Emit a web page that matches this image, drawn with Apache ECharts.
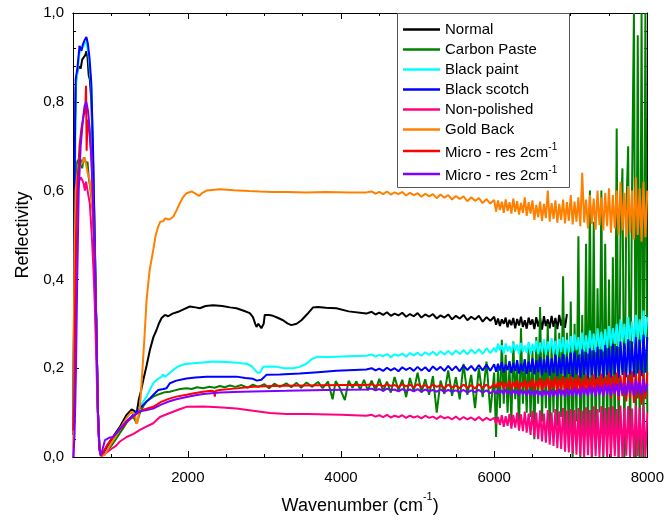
<!DOCTYPE html>
<html>
<head>
<meta charset="utf-8">
<script src="https://cdn.jsdelivr.net/npm/echarts@6/dist/echarts.min.js"></script>
<style>html,body{margin:0;padding:0;background:#fff}#c{width:667px;height:521px}</style>
</head>
<body>
<div id="c"></div>
<script>
const FONT = '"Liberation Sans", Arial, sans-serif';
const seriesNames = ['Normal','Carbon Paste','Black paint','Black scotch','Non-polished','Gold Back','Micro - res 2cm-1','Micro - res 2cm-1 '];
const seriesColors = ['#000000','#008000','#00FFFF','#0000FF','#FF0080','#FF8000','#FF0000','#8000FF'];
const xLabelValues = [2000,4000,6000,8000];
const yTicks = [0,0.2,0.4,0.6,0.8,1.0];

// shared wavenumber grid for the noisy tails
const tailX = [4400,4450,4500,4550,4600,4650,4700,4750,4800,4850,4900,4950,5000,5050,5100,5150,5200,5250,5300,5350,5400,5450,5500,5550,5600,5650,5700,5750,5800,5850,5900,5950,6000,
6025,6050,6075,6100,6125,6150,6175,6200,6225,6250,6275,6300,6325,6350,6375,6400,6425,6450,6475,6500,
6525,6550,6575,6600,6625,6650,6675,6700,6725,6750,6775,6800,6825,6850,6875,6900,6925,6950,6975,7000,
7025,7050,7075,7100,7125,7150,7175,7200,7225,7250,7275,7300,7325,7350,7375,7400,7425,7450,7475,7500,
7525,7550,7575,7600,7625,7650,7675,7700,7725,7750,7775,7800,7825,7850,7875,7900,7925,7950,7975,8000];

const normalHead = [[505,0.05],[515,0.4],[525,0.75],[540,0.85],[560,0.87],[580,0.88],[600,0.875],[620,0.895],[640,0.9],[660,0.905],[675,0.914],[690,0.9],[705,0.86],[720,0.85],[740,0.8],[760,0.68],[783,0.5],[804,0.3],[826,0.1],[845,0.02],[865,0.003],[890,0.008],[939,0.023],[1000,0.04],[1060,0.055],[1113,0.068],[1160,0.083],[1200,0.095],[1265,0.107],[1300,0.104],[1331,0.099],[1360,0.13],[1390,0.15],[1417,0.173],[1460,0.205],[1504,0.241],[1550,0.27],[1591,0.286],[1620,0.3],[1657,0.313],[1700,0.32],[1743,0.317],[1800,0.323],[1874,0.327],[1950,0.333],[2026,0.339],[2100,0.337],[2157,0.335],[2230,0.34],[2330,0.342],[2450,0.34],[2550,0.337],[2635,0.335],[2720,0.33],[2809,0.324],[2850,0.315],[2880,0.3],[2896,0.293],[2920,0.3],[2939,0.297],[2960,0.29],[2974,0.286],[2990,0.3],[3004,0.32],[3060,0.32],[3113,0.318],[3180,0.313],[3243,0.308],[3300,0.301],[3352,0.297],[3420,0.3],[3483,0.308],[3560,0.322],[3635,0.337],[3700,0.338],[3800,0.336],[3939,0.335],[4100,0.328],[4330,0.323]];
const normalTail = [0.327,0.321,0.325,0.32,0.326,0.318,0.323,0.319,0.325,0.316,
0.322,0.317,0.324,0.314,0.321,0.316,0.322,0.312,0.319,0.314,
0.321,0.31,0.318,0.312,0.32,0.308,0.316,0.31,0.318,0.305,
0.315,0.307,0.316,
0.298,0.312,0.295,0.31,0.3,0.314,0.292,0.309,0.297,0.313,
0.29,0.311,0.296,0.316,0.293,0.308,0.289,0.314,0.298,0.31,
0.288,0.315,0.294,0.312,0.287,0.317,0.295,0.31,0.29,0.318,
0.293,0.313,0.288,0.32,0.296,0.315,0.291,0.322];

const carbonHead = [[505,0.05],[515,0.35],[530,0.6],[545,0.66],[565,0.669],[585,0.655],[600,0.67],[620,0.65],[640,0.675],[660,0.678],[675,0.66],[690,0.665],[705,0.63],[730,0.6],[760,0.55],[783,0.45],[804,0.3],[826,0.1],[845,0.02],[865,0.003],[900,0.005],[939,0.012],[1000,0.025],[1060,0.04],[1113,0.054],[1160,0.066],[1200,0.077],[1250,0.088],[1290,0.09],[1331,0.076],[1374,0.099],[1420,0.115],[1460,0.125],[1548,0.136],[1600,0.14],[1650,0.143],[1700,0.146],[1765,0.147],[1830,0.15],[1900,0.153],[1983,0.155],[2050,0.153],[2120,0.157],[2200,0.155],[2280,0.158],[2350,0.156],[2417,0.16],[2480,0.157],[2550,0.161],[2620,0.158],[2700,0.162],[2780,0.156],[2850,0.163],[2920,0.158],[3000,0.164],[3060,0.155],[3130,0.165],[3200,0.158],[3287,0.166],[3350,0.157],[3420,0.167],[3480,0.156],[3550,0.168],[3620,0.158],[3700,0.169],[3760,0.155],[3830,0.17],[3890,0.13],[3930,0.171],[3980,0.157],[4050,0.128],[4100,0.172],[4150,0.156],[4200,0.17],[4250,0.152],[4300,0.174],[4350,0.15]];
const carbonTail = [0.172,0.15,0.176,0.148,0.17,0.145,0.18,0.15,0.174,0.135,
0.178,0.148,0.19,0.145,0.175,0.14,0.182,0.1,0.172,0.142,
0.195,0.138,0.18,0.13,0.21,0.14,0.185,0.11,0.2,0.135,
0.215,0.1,0.19,
0.045,0.2,0.11,0.264,0.12,0.23,0.1,0.205,0.08,0.26,
0.13,0.21,0.06,0.29,0.12,0.22,0.1,0.25,0.09,0.24,
0.04,0.27,0.12,0.338,0.08,0.26,0.11,0.3,0.05,0.25,
0.1,0.3,0.07,0.28,0.09,0.407,0.06,0.28,0.02,0.35,
0.0,0.3,0.08,0.497,0.0,0.32,0.05,0.48,0.03,0.6,
0.0,0.53,0.02,0.38,0.1,0.6,0.0,0.48,0.05,0.4,
0.0,0.45,0.02,0.74,0.0,0.5,0.65,0.0,0.55,0.7,
0.0,0.6,1.0,0.0,0.95,0.0,1.0,0.0,1.0,0.1];

const paintHead = [[505,0.05],[520,0.45],[535,0.83],[560,0.87],[585,0.91],[620,0.92],[650,0.93],[675,0.935],[700,0.91],[740,0.83],[760,0.7],[783,0.5],[804,0.3],[826,0.1],[845,0.02],[865,0.003],[900,0.01],[939,0.02],[1000,0.035],[1060,0.05],[1113,0.063],[1200,0.08],[1290,0.095],[1350,0.105],[1400,0.12],[1461,0.136],[1500,0.15],[1548,0.166],[1600,0.175],[1650,0.18],[1678,0.186],[1700,0.18],[1740,0.186],[1800,0.195],[1874,0.204],[1950,0.209],[2070,0.211],[2200,0.213],[2330,0.215],[2500,0.214],[2650,0.212],[2765,0.21],[2830,0.205],[2874,0.196],[2910,0.19],[2939,0.19],[2960,0.196],[2983,0.203],[3060,0.204],[3157,0.203],[3260,0.2],[3374,0.2],[3460,0.203],[3548,0.21],[3600,0.218],[3635,0.222],[3700,0.226],[3800,0.225],[3939,0.226],[4100,0.227],[4330,0.228]];
const paintTail = [0.231,0.226,0.23,0.227,0.232,0.225,0.231,0.228,0.233,0.226,
0.234,0.229,0.235,0.228,0.236,0.23,0.237,0.229,0.238,0.231,
0.239,0.23,0.24,0.232,0.241,0.231,0.242,0.233,0.243,0.232,
0.245,0.234,0.246,
0.236,0.255,0.24,0.252,0.233,0.256,0.238,0.25,0.234,0.258,
0.239,0.253,0.232,0.257,0.237,0.251,0.235,0.259,0.231,0.255,
0.237,0.262,0.232,0.258,0.236,0.265,0.23,0.26,0.238,0.268,
0.233,0.262,0.229,0.266,0.236,0.27,0.231,0.264,0.235,0.272,
0.234,0.276,0.241,0.27,0.232,0.28,0.238,0.274,0.233,0.285,
0.24,0.278,0.236,0.29,0.243,0.282,0.238,0.288,0.245,0.295,
0.25,0.29,0.255,0.3,0.248,0.31,0.26,0.3,0.252,0.315,
0.262,0.305,0.256,0.32,0.265,0.31,0.258,0.33,0.268,0.315];

const scotchHead = [[505,0.05],[515,0.35],[525,0.7],[535,0.85],[560,0.88],[585,0.926],[610,0.915],[630,0.93],[655,0.94],[675,0.946],[695,0.93],[715,0.9],[739,0.842],[761,0.7],[783,0.5],[804,0.3],[826,0.1],[845,0.02],[865,0.003],[900,0.01],[939,0.02],[1000,0.035],[1060,0.05],[1113,0.063],[1200,0.08],[1290,0.095],[1374,0.11],[1450,0.123],[1504,0.132],[1560,0.142],[1613,0.151],[1680,0.153],[1722,0.155],[1765,0.166],[1850,0.172],[1983,0.177],[2100,0.179],[2244,0.181],[2450,0.181],[2635,0.181],[2750,0.178],[2852,0.176],[2900,0.172],[2960,0.174],[3026,0.185],[3200,0.186],[3461,0.188],[3700,0.191],[3939,0.194],[4330,0.197]];
const scotchTail = [0.2,0.195,0.199,0.194,0.201,0.195,0.2,0.193,0.202,0.196,
0.201,0.194,0.203,0.195,0.202,0.193,0.204,0.196,0.203,0.194,
0.205,0.195,0.204,0.193,0.206,0.196,0.205,0.194,0.207,0.195,
0.208,0.194,0.209,
0.192,0.21,0.195,0.214,0.19,0.208,0.196,0.216,0.189,0.212,
0.194,0.218,0.188,0.21,0.193,0.22,0.187,0.215,0.192,0.222,
0.186,0.218,0.191,0.225,0.184,0.22,0.19,0.228,0.183,0.222,
0.189,0.23,0.182,0.224,0.188,0.232,0.181,0.226,0.187,0.235,
0.18,0.238,0.186,0.23,0.178,0.242,0.185,0.236,0.177,0.245,
0.184,0.24,0.176,0.248,0.183,0.242,0.178,0.252,0.185,0.246,
0.18,0.255,0.186,0.25,0.178,0.26,0.185,0.256,0.179,0.265,
0.186,0.26,0.18,0.27,0.188,0.264,0.182,0.275,0.19,0.27];

const polishHead = [[505,0.0],[515,0.08],[525,0.3],[540,0.5],[555,0.6],[575,0.62],[600,0.63],[620,0.624],[640,0.615],[655,0.6],[670,0.62],[690,0.6],[720,0.57],[745,0.5],[765,0.43],[783,0.35],[804,0.22],[826,0.08],[845,0.015],[865,0.002],[900,0.005],[939,0.01],[1000,0.018],[1060,0.025],[1113,0.035],[1200,0.045],[1290,0.052],[1374,0.061],[1450,0.068],[1548,0.076],[1635,0.09],[1765,0.099],[1900,0.108],[1983,0.113],[2200,0.114],[2400,0.112],[2635,0.109],[2850,0.104],[3070,0.099],[3287,0.097],[3550,0.097],[4000,0.095],[4330,0.093]];
const polishTail = [0.095,0.091,0.094,0.09,0.095,0.089,0.093,0.09,0.094,0.088,
0.093,0.089,0.092,0.087,0.093,0.088,0.091,0.086,0.092,0.087,
0.09,0.085,0.091,0.084,0.09,0.085,0.089,0.083,0.09,0.082,
0.088,0.083,0.088,
0.075,0.09,0.072,0.094,0.068,0.092,0.07,0.097,0.064,0.095,
0.066,0.1,0.06,0.096,0.058,0.102,0.055,0.098,0.05,0.104,
0.045,0.1,0.04,0.105,0.035,0.098,0.032,0.106,0.028,0.1,
0.025,0.108,0.02,0.103,0.018,0.11,0.012,0.104,0.01,0.108,
0.008,0.106,0.005,0.11,0.003,0.104,0.0,0.112,0.004,0.106,
0.0,0.114,0.002,0.108,0.0,0.115,0.003,0.11,0.0,0.112,
0.0,0.114,0.002,0.108,0.0,0.116,0.0,0.11,0.003,0.115,
0.0,0.109,0.0,0.116,0.002,0.11,0.0,0.115,0.0,0.1];

const goldHead = [[505,0.02],[512,0.3],[520,0.45],[535,0.6],[560,0.64],[585,0.655],[610,0.66],[630,0.665],[652,0.675],[670,0.66],[690,0.64],[710,0.63],[735,0.6],[760,0.55],[783,0.45],[804,0.3],[826,0.1],[845,0.02],[865,0.002],[890,0.003],[917,0.005],[960,0.02],[1026,0.038],[1100,0.06],[1200,0.088],[1265,0.102],[1287,0.106],[1310,0.095],[1331,0.075],[1345,0.08],[1374,0.114],[1396,0.167],[1430,0.26],[1461,0.354],[1500,0.42],[1548,0.466],[1580,0.5],[1613,0.519],[1640,0.53],[1657,0.534],[1680,0.531],[1700,0.537],[1722,0.534],[1760,0.535],[1809,0.541],[1850,0.555],[1896,0.572],[1940,0.586],[1983,0.594],[2048,0.598],[2100,0.593],[2148,0.588],[2190,0.595],[2244,0.6],[2417,0.603],[2600,0.601],[2800,0.599],[2939,0.598],[3100,0.597],[3300,0.597],[3548,0.596],[3800,0.597],[4113,0.596],[4330,0.596]];
const goldTail = [0.598,0.593,0.597,0.592,0.598,0.591,0.596,0.592,0.597,0.589,
0.595,0.59,0.594,0.586,0.593,0.587,0.592,0.583,0.591,0.584,
0.59,0.58,0.588,0.581,0.587,0.576,0.585,0.577,0.583,0.572,
0.581,0.571,0.579,
0.553,0.578,0.556,0.575,0.55,0.58,0.554,0.574,0.548,0.582,
0.552,0.576,0.546,0.572,0.55,0.585,0.543,0.574,0.548,0.578,
0.534,0.568,0.54,0.575,0.532,0.57,0.538,0.6,0.53,0.572,
0.536,0.578,0.528,0.57,0.534,0.58,0.526,0.574,0.532,0.59,
0.524,0.575,0.53,0.585,0.52,0.64,0.528,0.58,0.515,0.59,
0.525,0.582,0.512,0.6,0.522,0.585,0.51,0.595,0.52,0.605,
0.505,0.59,0.515,0.6,0.5,0.62,0.51,0.595,0.495,0.61,
0.505,0.6,0.49,0.63,0.5,0.605,0.485,0.62,0.495,0.6];

const microRedHead = [[505,0.06],[515,0.12],[525,0.3],[540,0.5],[560,0.62],[585,0.7],[610,0.74],[640,0.77],[660,0.78],[670,0.836],[678,0.69],[690,0.76],[710,0.74],[740,0.68],[761,0.58],[783,0.45],[804,0.3],[826,0.1],[845,0.02],[865,0.003],[900,0.012],[939,0.025],[1000,0.04],[1060,0.052],[1113,0.062],[1200,0.078],[1300,0.093],[1374,0.103],[1450,0.108],[1548,0.113],[1650,0.124],[1750,0.131],[1850,0.136],[1983,0.14],[2100,0.144],[2200,0.147],[2300,0.149],[2340,0.148],[2352,0.136],[2365,0.149],[2417,0.151],[2600,0.154],[2852,0.158],[3100,0.16],[3500,0.161],[4000,0.162],[4330,0.162]];
const microRedTail = [0.164,0.16,0.163,0.159,0.164,0.16,0.162,0.158,0.164,0.159,
0.163,0.157,0.164,0.158,0.162,0.156,0.163,0.158,0.162,0.155,
0.163,0.157,0.161,0.155,0.163,0.156,0.162,0.154,0.164,0.156,
0.163,0.155,0.165,
0.156,0.168,0.158,0.17,0.154,0.167,0.157,0.172,0.153,0.169,
0.156,0.173,0.152,0.168,0.157,0.174,0.151,0.17,0.156,0.176,
0.152,0.172,0.155,0.178,0.15,0.173,0.156,0.18,0.149,0.175,
0.154,0.181,0.148,0.176,0.153,0.182,0.147,0.177,0.152,0.183,
0.144,0.178,0.15,0.184,0.142,0.176,0.148,0.185,0.14,0.179,
0.146,0.186,0.138,0.18,0.145,0.188,0.136,0.181,0.143,0.19,
0.132,0.182,0.14,0.19,0.128,0.184,0.137,0.192,0.125,0.185,
0.134,0.193,0.122,0.186,0.132,0.195,0.118,0.188,0.13,0.19];

const microVioHead = [[505,0.0],[520,0.05],[530,0.12],[539,0.2],[555,0.4],[575,0.6],[600,0.7],[630,0.76],[650,0.79],[673,0.8],[696,0.78],[717,0.74],[740,0.67],[761,0.58],[783,0.45],[804,0.3],[826,0.1],[845,0.02],[865,0.003],[890,0.02],[917,0.038],[940,0.04],[983,0.044],[1026,0.045],[1070,0.055],[1113,0.064],[1200,0.08],[1290,0.093],[1374,0.103],[1450,0.105],[1548,0.109],[1650,0.118],[1750,0.125],[1850,0.13],[1983,0.135],[2100,0.139],[2200,0.142],[2417,0.145],[2700,0.147],[3000,0.148],[3287,0.149],[3800,0.151],[4330,0.152]];
const microVioTail = [0.154,0.15,0.153,0.149,0.154,0.15,0.152,0.148,0.153,0.149,
0.152,0.148,0.153,0.147,0.152,0.148,0.151,0.147,0.152,0.146,
0.151,0.147,0.15,0.146,0.151,0.145,0.15,0.146,0.151,0.145,
0.15,0.144,0.149,
0.142,0.152,0.144,0.15,0.141,0.153,0.143,0.149,0.14,0.151,
0.142,0.15,0.139,0.152,0.141,0.149,0.138,0.151,0.14,0.15,
0.137,0.15,0.139,0.148,0.136,0.151,0.138,0.149,0.135,0.152,
0.137,0.15,0.136,0.153,0.138,0.151,0.135,0.155,0.139,0.152,
0.136,0.157,0.139,0.154,0.135,0.159,0.14,0.156,0.137,0.161,
0.141,0.158,0.136,0.163,0.14,0.16,0.137,0.165,0.142,0.162,
0.138,0.167,0.143,0.164,0.137,0.17,0.142,0.166,0.139,0.172,
0.144,0.168,0.138,0.174,0.143,0.17,0.14,0.176,0.145,0.165];

function join(head, tail) {
  return head.concat(tail.map((y, i) => [tailX[i], y]));
}
const seriesData = [
  join(normalHead, normalTail),
  join(carbonHead, carbonTail),
  join(paintHead, paintTail),
  join(scotchHead, scotchTail),
  join(polishHead, polishTail),
  join(goldHead, goldTail),
  join(microRedHead, microRedTail),
  join(microVioHead, microVioTail)
];

const chart = echarts.init(document.getElementById('c'), null, {renderer: 'canvas'});
const GRID = {left: 73, right: 19, top: 13, bottom: 64};
const axisLine = {show: true, lineStyle: {color: '#000', width: 1}};
const fmtY = v => v.toFixed(1).replace('.', ',');
const fmtX = v => String(v);

const xBase = {type: 'value', min: 500, max: 8000, splitLine: {show: false}, axisLine: axisLine};
const yBase = {type: 'value', min: 0, max: 1, interval: 0.2, splitLine: {show: false}, axisLine: axisLine};

const option = {
  animation: false,
  backgroundColor: '#fff',
  textStyle: {fontFamily: FONT},
  grid: GRID,
  xAxis: [
    Object.assign({}, xBase, {position: 'bottom', interval: 500,
      axisTick: {inside: true, length: 3, lineStyle: {color: '#000'}},
      axisLabel: {customValues: xLabelValues, formatter: fmtX, fontSize: 15, color: '#000', fontFamily: FONT, margin: 13},
      name: '{a|Wavenumber (cm}{s|-1}{a|)}', nameLocation: 'middle', nameGap: 34,
      nameTextStyle: {rich: {
        a: {fontSize: 18, fontFamily: FONT, color: '#000', lineHeight: 24, verticalAlign: 'bottom'},
        s: {fontSize: 11, fontFamily: FONT, color: '#000', lineHeight: 16, verticalAlign: 'top'}
      }}}),
    Object.assign({}, xBase, {position: 'bottom', interval: 500,
      axisTick: {inside: true, length: 6, customValues: xLabelValues, lineStyle: {color: '#000'}},
      axisLabel: {show: false}}),
    Object.assign({}, xBase, {position: 'top', interval: 500,
      axisTick: {inside: true, length: 3, lineStyle: {color: '#000'}},
      axisLabel: {show: false}}),
    Object.assign({}, xBase, {position: 'top', interval: 500,
      axisTick: {inside: true, length: 6, customValues: xLabelValues, lineStyle: {color: '#000'}},
      axisLabel: {show: false}})
  ],
  yAxis: [
    Object.assign({}, yBase, {position: 'left',
      axisTick: {inside: true, length: 6, lineStyle: {color: '#000'}},
      minorTick: {show: true, splitNumber: 5, length: 3, lineStyle: {color: '#000'}},
      axisLabel: {formatter: fmtY, fontSize: 15, color: '#000', fontFamily: FONT, margin: 9,
        customValues: yTicks},
      name: 'Reflectivity', nameLocation: 'middle', nameGap: 40,
      nameTextStyle: {fontSize: 18, color: '#000', fontFamily: FONT}}),
    Object.assign({}, yBase, {position: 'right',
      axisTick: {inside: true, length: 6, lineStyle: {color: '#000'}},
      minorTick: {show: true, splitNumber: 5, length: 3, lineStyle: {color: '#000'}},
      axisLabel: {show: false}})
  ],
  legend: {
    show: true, orient: 'vertical', left: 403, top: 22, padding: 0, itemGap: 5,
    itemWidth: 37, itemHeight: 2.5, icon: 'rect', z: 10,
    data: seriesNames,
    formatter: function (name) {
      if (name.indexOf('Micro') === 0) return '{t|Micro - res 2cm}{s|-1}';
      return '{n|' + name + '}';
    },
    textStyle: {color: '#000', fontFamily: FONT, fontSize: 15, rich: {
      n: {fontSize: 15, fontFamily: FONT, color: '#000'},
      t: {fontSize: 15, fontFamily: FONT, color: '#000', lineHeight: 18, verticalAlign: 'bottom'},
      s: {fontSize: 10, fontFamily: FONT, color: '#000', lineHeight: 10, verticalAlign: 'top'}
    }}
  },
  graphic: [{
    type: 'rect', z: 5,
    shape: {x: 397.5, y: 13.5, width: 172, height: 174},
    style: {fill: '#fff', stroke: '#555', lineWidth: 1}
  }],
  series: seriesNames.map((name, i) => ({
    name: name, type: 'line', data: seriesData[i], xAxisIndex: 0, yAxisIndex: 0,
    symbol: 'none', showSymbol: false, clip: true, z: 2 + i * 0.01,
    color: seriesColors[i],
    lineStyle: {color: seriesColors[i], width: 2},
    emphasis: {disabled: true}
  }))
};
chart.setOption(option);
</script>
</body>
</html>
